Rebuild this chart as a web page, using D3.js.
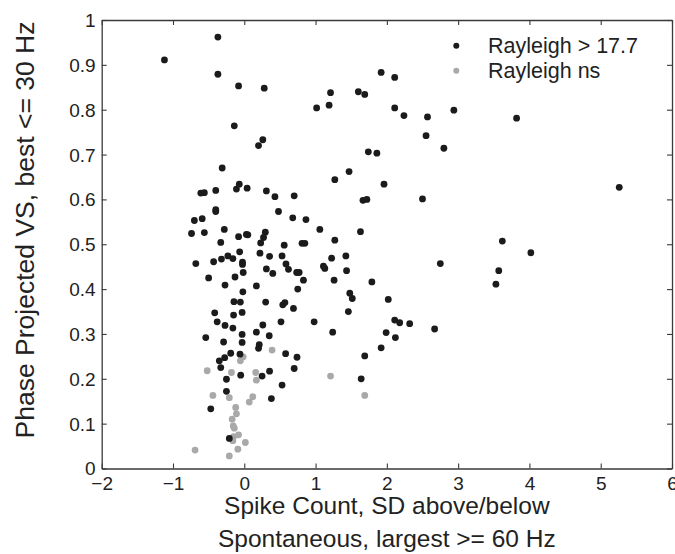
<!DOCTYPE html>
<html>
<head>
<meta charset="utf-8">
<script src="https://cdn.jsdelivr.net/npm/d3@7"></script>
<style>
  html, body { margin: 0; padding: 0; background: #fff; }
  svg { display: block; font-family: "Liberation Sans", Arial, Helvetica, sans-serif; }
</style>
</head>
<body>
<svg id="chart" width="675" height="554"></svg>
<script>
// x = spike count (SD above/below spontaneous), y = phase projected VS
var sigPoints = [
  [-1.12,0.911],[-0.37,0.962],[-0.37,0.879],[-0.08,0.853],[0.28,0.848],[-0.14,0.764],[0.20,0.720],[0.26,0.733],
  [1.015,0.804],[1.19,0.810],[1.21,0.838],[1.60,0.840],[1.69,0.834],[1.92,0.883],[2.11,0.872],[2.11,0.804],
  [2.24,0.787],[2.57,0.784],[2.94,0.799],[3.82,0.781],[2.55,0.742],[2.80,0.714],
  [1.74,0.706],[1.86,0.703],[1.47,0.662],[1.27,0.644],[1.96,0.634],[5.26,0.627],[2.50,0.601],
  [-0.31,0.670],[1.665,0.598],[1.72,0.600],
  [-0.11,0.623],[-0.07,0.634],[0.04,0.625],[-0.40,0.620],[-0.61,0.614],[-0.56,0.615],[0.31,0.619],[0.43,0.606],[0.70,0.608],
  [-0.40,0.577],[-0.40,0.573],[0.48,0.573],
  [-0.70,0.553],[-0.59,0.557],[0.68,0.559],[0.865,0.555],
  [-0.74,0.524],[-0.56,0.526],[-0.28,0.533],[1.06,0.533],[1.63,0.528],
  [-0.33,0.504],[-0.08,0.517],[0.03,0.522],[0.05,0.521],[0.295,0.527],[0.27,0.515],[0.23,0.503],[1.27,0.509],[3.62,0.507],
  [0.56,0.498],[0.81,0.502],[0.85,0.502],
  [-0.68,0.457],[-0.43,0.461],[-0.32,0.467],[-0.23,0.474],[-0.16,0.468],[-0.065,0.483],[-0.025,0.460],[-0.025,0.455],
  [0.22,0.480],[0.355,0.473],[0.53,0.474],[1.225,0.469],[1.425,0.474],[4.02,0.481],[2.75,0.457],
  [0.585,0.456],[0.62,0.444],[0.31,0.445],[0.40,0.435],[-0.015,0.437],[0.735,0.437],[0.77,0.437],[1.11,0.451],[1.13,0.446],
  [1.435,0.441],[3.57,0.441],
  [-0.50,0.425],[-0.13,0.427],[0.83,0.420],[1.26,0.420],[1.79,0.416],[3.53,0.411],[-0.27,0.409],[0.17,0.407],[0.75,0.400],
  [-0.02,0.394],[1.48,0.391],[1.515,0.379],[2.02,0.377],
  [-0.145,0.372],[-0.055,0.371],[0.30,0.371],[0.54,0.365],[0.57,0.370],[0.69,0.357],[1.46,0.350],
  [-0.415,0.347],[-0.15,0.342],[-0.03,0.348],
  [-0.38,0.327],[-0.27,0.319],[-0.16,0.313],[0.26,0.320],[0.515,0.327],[0.98,0.327],[2.11,0.331],[2.18,0.325],[2.32,0.323],[2.67,0.311],
  [-0.54,0.292],[-0.03,0.299],[0.17,0.304],[0.35,0.296],[1.24,0.304],[1.99,0.303],[2.12,0.292],
  [-0.29,0.282],[-0.03,0.281],[0.21,0.276],[0.20,0.268],[1.92,0.269],
  [-0.19,0.257],[-0.06,0.255],[0.58,0.256],[0.74,0.248],[1.69,0.251],
  [-0.275,0.247],[-0.35,0.240],[-0.33,0.225],[-0.05,0.208],[0.25,0.206],[0.355,0.217],[0.70,0.223],
  [-0.25,0.199],[1.64,0.200],[0.53,0.186],
  [-0.25,0.172],[0.38,0.156],[-0.47,0.133],[-0.21,0.067]
];

var nsPoints = [
  [0.39,0.264],[-0.015,0.249],[-0.055,0.240],[-0.52,0.218],[-0.18,0.214],[0.16,0.214],[0.17,0.197],
  [-0.44,0.163],[-0.21,0.158],[0.12,0.160],[0.07,0.148],[-0.12,0.136],[-0.11,0.122],[-0.17,0.110],
  [-0.155,0.095],[-0.14,0.090],[-0.08,0.075],[-0.15,0.071],[-0.16,0.062],[0.015,0.058],[-0.09,0.043],
  [-0.69,0.041],[-0.21,0.028],[1.21,0.206],[1.69,0.163]
];

var xTicks = [-2, -1, 0, 1, 2, 3, 4, 5, 6];
var yTicks = [0, 0.1, 0.2, 0.3, 0.4, 0.5, 0.6, 0.7, 0.8, 0.9, 1];
var legendLabels = ['Rayleigh > 17.7', 'Rayleigh ns'];
var xLabelLines = ['Spike Count, SD above/below', 'Spontaneous, largest >= 60 Hz'];
var yLabel = 'Phase Projected VS, best <= 30 Hz';

(function () {
  var svg = d3.select('#chart');
  // plot box in pixels (note: "top" is a reserved global, so use plotTop)
  var plotLeft = 101.7, plotRight = 672, plotTop = 20, plotBottom = 468.5;
  var axisColor = '#3a3a3a';

  var x = d3.scaleLinear().domain([-2, 6]).range([plotLeft, plotRight]);
  var y = d3.scaleLinear().domain([0, 1]).range([plotBottom, plotTop]);

  function fmt(d) {
    return d < 0 ? '\u2212' + Math.abs(d) : String(d);
  }

  // box with inward ticks on every side (matlab style)
  var tickLen = 5;
  var axes = [
    d3.axisBottom(x).tickValues(xTicks).tickSizeInner(-tickLen).tickSizeOuter(0).tickFormat(fmt),
    d3.axisTop(x).tickValues(xTicks).tickSizeInner(-tickLen).tickSizeOuter(0).tickFormat(''),
    d3.axisLeft(y).tickValues(yTicks).tickSizeInner(-tickLen).tickSizeOuter(0).tickFormat(d3.format('')),
    d3.axisRight(y).tickValues(yTicks).tickSizeInner(-tickLen).tickSizeOuter(0).tickFormat('')
  ];
  var offsets = ['translate(0,' + plotBottom + ')', 'translate(0,' + plotTop + ')',
                 'translate(' + plotLeft + ',0)', 'translate(' + plotRight + ',0)'];

  axes.forEach(function (ax, i) {
    var g = svg.append('g').attr('transform', offsets[i]).call(ax);
    g.select('.domain').attr('stroke', axisColor).attr('stroke-width', 1.3);
    g.selectAll('.tick line').attr('stroke', axisColor).attr('stroke-width', 1.1);
    g.selectAll('.tick text')
      .attr('fill', '#222')
      .style('font-size', '19px')
      .style('font-family', '"Liberation Sans", Arial, sans-serif');
    if (i === 0) {
      g.selectAll('.tick text').attr('y', 8).attr('dy', '0.71em');
    }
    if (i === 2) {
      g.selectAll('.tick text').attr('x', -6).attr('dy', '0.34em');
    }
  });

  // gray (non significant) first, significant drawn on top
  svg.append('g').selectAll('circle')
    .data(nsPoints)
    .enter().append('circle')
    .attr('cx', function (d) { return x(d[0]); })
    .attr('cy', function (d) { return y(d[1]); })
    .attr('r', 3.4)
    .attr('fill', '#a9a9a9');

  svg.append('g').selectAll('circle')
    .data(sigPoints)
    .enter().append('circle')
    .attr('cx', function (d) { return x(d[0]); })
    .attr('cy', function (d) { return y(d[1]); })
    .attr('r', 3.4)
    .attr('fill', '#1b1b1b');

  // legend
  var legendColors = ['#1b1b1b', '#a9a9a9'];
  var legend = svg.append('g');
  legendLabels.forEach(function (label, i) {
    var ly = 45.7 + i * 25;
    legend.append('circle')
      .attr('cx', 456.3).attr('cy', ly).attr('r', 3)
      .attr('fill', legendColors[i]);
    legend.append('text')
      .attr('x', 488).attr('y', ly).attr('dy', '0.36em')
      .attr('fill', '#222')
      .style('font-size', '21.5px')
      .text(label);
  });

  // axis labels
  svg.append('g').selectAll('text')
    .data(xLabelLines)
    .enter().append('text')
    .attr('x', (plotLeft + plotRight) / 2)
    .attr('y', function (d, i) { return 514 + i * 33; })
    .attr('text-anchor', 'middle')
    .attr('fill', '#222')
    .style('font-size', '24.5px')
    .text(function (d) { return d; });

  svg.append('text')
    .attr('transform', 'translate(34,230) rotate(-90)')
    .attr('text-anchor', 'middle')
    .attr('fill', '#222')
    .style('font-size', '26.5px')
    .text(yLabel);
})();
</script>
</body>
</html>
